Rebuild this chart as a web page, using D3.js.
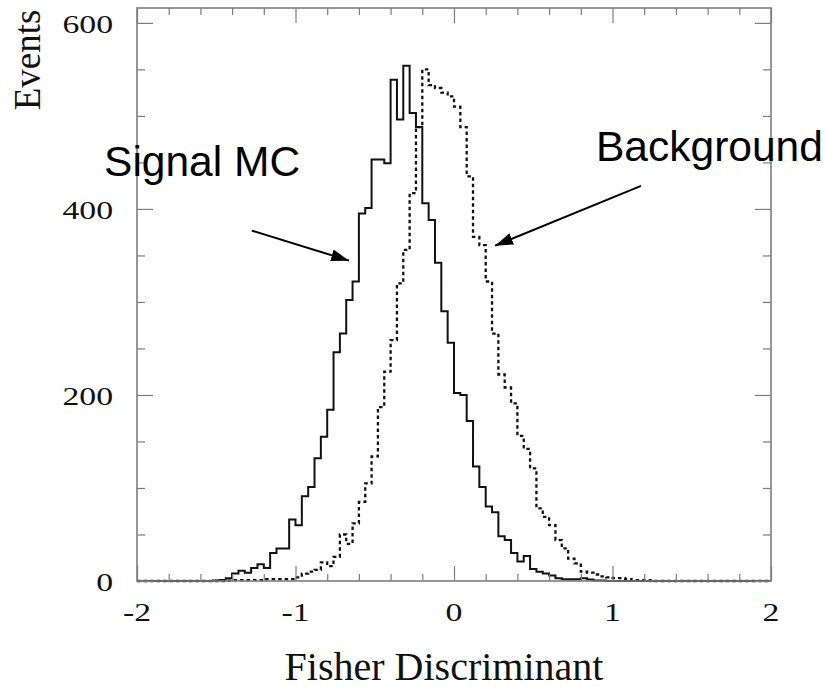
<!DOCTYPE html>
<html>
<head>
<meta charset="utf-8">
<script src="https://cdn.jsdelivr.net/npm/d3@7"></script>
<style>
  html, body { margin: 0; padding: 0; background: #fff; }
  svg { display: block; }
</style>
</head>
<body>
<svg id="chart" width="825" height="689"></svg>
<script>
// ---- Data ----
const binLow = -2, binHigh = 2, binWidth = 0.04;   // 100 bins
const signalMC = [
  0,0,0,0,0,0,0,0,0,0, 0,0,0.5,1,3,8,11,9,14,18,
  14,30,35,35,66,60,91,101,132,155, 184,246,266,302,322,395,401,453,453,449,
  539,496,554,503,488,406,388,342,290,256, 202,200,172,123,101,80,74,48,44,30,
  21,27,13,10,8,6,3,2,2,2, 3,1.5,0.5,0.5,0,0,0,0,0,0,
  0,0,0,0,0,0,0,0,0,0, 0,0,0,0,0,0,0,0,0,0
];
const background = [
  0,0,0,0,0,0,0,0,0,0, 0,0,0,0,0.5,1,1,1,1,1,
  2,2,2,2,2,4,8,10,12,20, 16,26,50,40,62,85,105,134,187,225,
  259,320,356,417,488,550,533,530,525,521, 510,488,435,370,361,322,266,222,208,191,
  156,142,121,78,69,60,44,35,24,19, 10,9,7,5,4,3,3,2,1,1,
  1,0,0,0,0,0,0,0,0,0, 0,0,0,0,0,0,0,0,0,0
];
const xMajorTicks = [-2,-1,0,1,2];
const xTickLabels = ["-2","-1","0","1","2"];
const yMajorTicks = [0,200,400,600];
const yTickLabels = ["0","200","400","600"];
const xTitle = "Fisher Discriminant";
const yTitle = "Events";
const annotations = [
  {text:"Signal MC",  tx:-2.208, ty:435.8, x1:-1.276, y1:376.7, x2:-0.662, y2:344.4},
  {text:"Background", tx:0.896,  ty:451.9, x1:1.180,  y1:424.7, x2:0.259,  y2:360.5}
];

// ---- Layout ----
const svg = d3.select("#chart");
const x = d3.scaleLinear().domain([-2, 2]).range([137, 771]);
const y = d3.scaleLinear().domain([0, 616]).range([581, 8]);
const frameColor = "#7d7d7d";

// Histogram outlines
function stepPoints(vals) {
  const pts = vals.map((v, i) => [binLow + i * binWidth, v]);
  pts.push([binHigh, vals[vals.length - 1]]);
  return pts;
}
const line = d3.line().x(d => x(d[0])).y(d => y(d[1])).curve(d3.curveStepAfter);

svg.append("path")
  .attr("d", line(stepPoints(background)))
  .attr("fill", "none").attr("stroke", "#111")
  .attr("stroke-width", 2.3).attr("stroke-dasharray", "3.5,3");

svg.append("path")
  .attr("d", line(stepPoints(signalMC)))
  .attr("fill", "none").attr("stroke", "#111")
  .attr("stroke-width", 2).attr("stroke-linejoin", "miter");

// Ticks (all four sides, inward)
const xMinor = d3.range(-2, 2.0001, 0.2).map(v => +v.toFixed(2)).filter(v => !xMajorTicks.includes(v));
const yMinor = d3.range(0, 616, 50).filter(v => !yMajorTicks.includes(v));

function addAxis(axis, tx, ty) {
  const g = svg.append("g").attr("transform", `translate(${tx},${ty})`).call(axis);
  g.select(".domain").remove();
  g.selectAll(".tick line").attr("stroke", frameColor).attr("stroke-width", 1.2);
  g.selectAll(".tick text").remove();
}
addAxis(d3.axisBottom(x).tickValues(xMajorTicks).tickSize(-15), 0, 581);
addAxis(d3.axisBottom(x).tickValues(xMinor).tickSize(-7), 0, 581);
addAxis(d3.axisTop(x).tickValues(xMajorTicks).tickSize(-15), 0, 8);
addAxis(d3.axisTop(x).tickValues(xMinor).tickSize(-7), 0, 8);
addAxis(d3.axisLeft(y).tickValues(yMajorTicks).tickSize(-16), 137, 0);
addAxis(d3.axisLeft(y).tickValues(yMinor).tickSize(-8), 137, 0);
addAxis(d3.axisRight(y).tickValues(yMajorTicks).tickSize(-16), 771, 0);
addAxis(d3.axisRight(y).tickValues(yMinor).tickSize(-8), 771, 0);

// Frame
svg.append("rect")
  .attr("x", x(-2)).attr("y", y(616))
  .attr("width", x(2) - x(-2)).attr("height", y(0) - y(616))
  .attr("fill", "none").attr("stroke", frameColor).attr("stroke-width", 1.6);

// Tick labels (serif, slightly wide)
const serif = "'Liberation Serif','Times New Roman',Times,serif";
xMajorTicks.forEach((v, i) => {
  svg.append("g").attr("transform", `translate(${x(v)},621) scale(1.35,1)`)
    .append("text").attr("text-anchor", "middle")
    .attr("font-family", serif).attr("font-size", 25).attr("fill", "#111")
    .text(xTickLabels[i]);
});
yMajorTicks.forEach((v, i) => {
  svg.append("g").attr("transform", `translate(113,${y(v) + 10}) scale(1.35,1)`)
    .append("text").attr("text-anchor", "end")
    .attr("font-family", serif).attr("font-size", 25).attr("fill", "#111")
    .text(yTickLabels[i]);
});

// Axis titles
svg.append("text").attr("x", 444).attr("y", 680)
  .attr("text-anchor", "middle").attr("font-family", serif)
  .attr("font-size", 40).attr("fill", "#111").text(xTitle);
svg.append("text").attr("transform", "translate(40,60) rotate(-90)")
  .attr("text-anchor", "middle").attr("font-family", serif)
  .attr("font-size", 37).attr("fill", "#111").text(yTitle);

// Annotations
const defs = svg.append("defs");
defs.append("marker").attr("id", "head")
  .attr("viewBox", "0 0 18 12").attr("refX", 18).attr("refY", 6)
  .attr("markerWidth", 18).attr("markerHeight", 12)
  .attr("markerUnits", "userSpaceOnUse").attr("orient", "auto")
  .append("path").attr("d", "M0,0 L18,6 L0,12 Z").attr("fill", "#000");

annotations.forEach(a => {
  svg.append("text").attr("x", x(a.tx)).attr("y", y(a.ty))
    .attr("font-family", "'Liberation Sans',Arial,Helvetica,sans-serif")
    .attr("font-size", 42.5).attr("fill", "#000").text(a.text);
  svg.append("line")
    .attr("x1", x(a.x1)).attr("y1", y(a.y1))
    .attr("x2", x(a.x2)).attr("y2", y(a.y2))
    .attr("stroke", "#000").attr("stroke-width", 2)
    .attr("marker-end", "url(#head)");
});
</script>
</body>
</html>
